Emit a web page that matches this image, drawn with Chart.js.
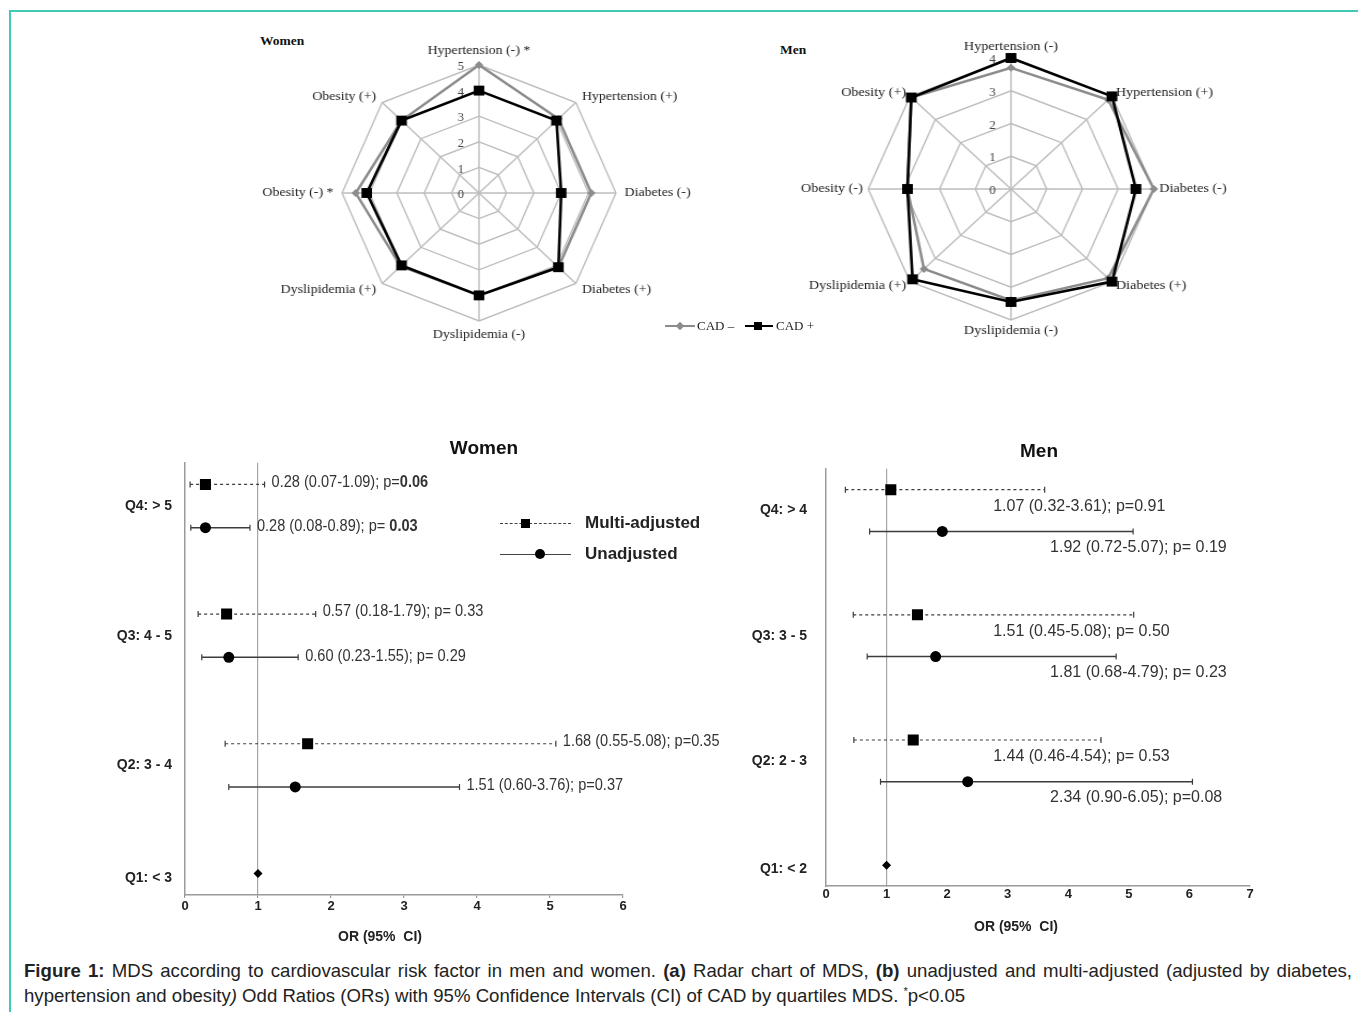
<!DOCTYPE html>
<html>
<head>
<meta charset="utf-8">
<title>Figure 1</title>
<script src="https://cdn.jsdelivr.net/npm/chart.js@4.4.1/dist/chart.umd.min.js"></script>
<style>
  html, body { margin: 0; padding: 0; background: #fff; }
  #page { position: relative; width: 1358px; height: 1012px; overflow: hidden; font-family: "Liberation Sans", Arial, sans-serif; color: #222; }
  #frame { position: absolute; left: 9px; top: 10px; width: 1400px; height: 1100px; border-top: 2px solid #41c9b5; border-left: 2px solid #41c9b5; }
  canvas { position: absolute; }
  .abs { position: absolute; white-space: nowrap; }
  .serif { font-family: "Liberation Serif", "Times New Roman", serif; }
  .rtitle { font-size: 13.5px; font-weight: bold; color: #111; }
  .mark { position: absolute; background: #000; }
  .flg { font-size: 17px; font-weight: bold; line-height: 20px; color: #222; }
  #caption { position: absolute; left: 24px; top: 958px; font-size: 18.6px; line-height: 25px; color: #222; }
  #caption .l1 { width: 1328px; text-align: justify; text-align-last: justify; white-space: nowrap; }
  #caption .l2 { white-space: nowrap; }
</style>
</head>
<body>
<div id="page">
  <div id="frame"></div>

  <div class="abs serif rtitle" style="left:260px; top:33px;">Women</div>
  <div class="abs serif rtitle" style="left:780px; top:42px;">Men</div>
  <canvas id="radarWomen" width="460" height="340" style="left:249px; top:23px; transform-origin:230px 170px; transform:scaleX(1.07);"></canvas>
  <canvas id="radarMen" width="460" height="340" style="left:781px; top:19px; transform-origin:230px 170px; transform:scaleX(1.09);"></canvas>

  <!-- radar legend -->
  <div class="abs" style="left:665px; top:325px; width:30px; border-top:2px solid #8c8c8c;"></div>
  <div class="mark" style="left:677px; top:323px; width:6px; height:6px; background:#8c8c8c; transform:rotate(45deg);"></div>
  <div class="abs serif" style="left:697px; top:318px; font-size:13px; line-height:16px;">CAD –</div>
  <div class="abs" style="left:745px; top:325px; width:28px; border-top:2px solid #000;"></div>
  <div class="mark" style="left:754px; top:322px; width:8px; height:8px;"></div>
  <div class="abs serif" style="left:776px; top:318px; font-size:13px; line-height:16px;">CAD +</div>

  <canvas id="forestWomen" width="788" height="520" style="left:90px; top:430px;"></canvas>
  <canvas id="forestMen" width="598" height="510" style="left:740px; top:430px;"></canvas>

  <!-- forest legend -->
  <div class="abs" style="left:500px; top:523px; width:71px; border-top:1.5px dashed #444;"></div>
  <div class="mark" style="left:521px; top:519px; width:9px; height:9px;"></div>
  <div class="abs flg" style="left:585px; top:513px;">Multi-adjusted</div>
  <div class="abs" style="left:500px; top:554px; width:71px; border-top:1.5px solid #444;"></div>
  <div class="mark" style="left:535px; top:549px; width:10px; height:10px; border-radius:50%;"></div>
  <div class="abs flg" style="left:585px; top:544px;">Unadjusted</div>

  <div id="caption">
    <div class="l1"><b>Figure 1:</b> MDS according to cardiovascular risk factor in men and women. <b>(a)</b> Radar chart of MDS, <b>(b)</b> unadjusted and multi-adjusted (adjusted by diabetes,</div>
    <div class="l2">hypertension and obesity<i>)</i> Odd Ratios (ORs) with 95% Confidence Intervals (CI) of CAD by quartiles MDS. <sup style="font-size:11px; line-height:0">*</sup>p&lt;0.05</div>
  </div>
</div>

<script>
// ---- radar data (MDS) ----
const womenAxes = ['Hypertension (-) *', 'Hypertension (+)', 'Diabetes (-)', 'Diabetes (+)', 'Dyslipidemia (-)', 'Dyslipidemia (+)', 'Obesity (-) *', 'Obesity (+)'];
const womenCadNeg = [5.0, 4.1, 4.1, 4.1, 4.0, 4.05, 4.5, 4.0];
const womenCadPos = [4.0, 4.0, 3.0, 4.1, 4.0, 4.0, 4.1, 4.0];

const menAxes = ['Hypertension (-)', 'Hypertension (+)', 'Diabetes (-)', 'Diabetes (+)', 'Dyslipidemia (-)', 'Dyslipidemia (+)', 'Obesity (-)', 'Obesity (+)'];
const menCadNeg = [3.7, 3.85, 4.0, 3.85, 3.4, 3.45, 2.9, 3.95];
const menCadPos = [4.0, 4.0, 3.5, 4.0, 3.45, 3.9, 2.9, 3.95];

// ---- odds ratios by MDS quartile ----
const womenGroups = ['Q4: > 5', 'Q3: 4 - 5', 'Q2: 3 - 4', 'Q1: < 3'];
const womenMultiOR = [0.28, 0.57, 1.68];
const womenMultiLo = [0.07, 0.18, 0.55];
const womenMultiHi = [1.09, 1.79, 5.08];
const womenMultiP = ['0.06', ' 0.33', '0.35'];
const womenUnadjOR = [0.28, 0.60, 1.51];
const womenUnadjLo = [0.08, 0.23, 0.60];
const womenUnadjHi = [0.89, 1.55, 3.76];
const womenUnadjP = [' 0.03', ' 0.29', '0.37'];
const womenBoldP = [true, false, false];
const womenXTicks = [0, 1, 2, 3, 4, 5, 6];

const menGroups = ['Q4: > 4', 'Q3: 3 - 5', 'Q2: 2 - 3', 'Q1: < 2'];
const menMultiOR = [1.07, 1.51, 1.44];
const menMultiLo = [0.32, 0.45, 0.46];
const menMultiHi = [3.61, 5.08, 4.54];
const menMultiP = ['0.91', ' 0.50', ' 0.53'];
const menUnadjOR = [1.92, 1.81, 2.34];
const menUnadjLo = [0.72, 0.68, 0.90];
const menUnadjHi = [5.07, 4.79, 6.05];
const menUnadjP = [' 0.19', ' 0.23', '0.08'];
const menBoldP = [false, false, false];
const menXTicks = [0, 1, 2, 3, 4, 5, 6, 7];

Chart.defaults.font.family = '"Liberation Sans", Arial, sans-serif';
Chart.defaults.animation = false;
Chart.defaults.plugins.legend.display = false;
Chart.defaults.plugins.tooltip.enabled = false;

// tick numbers left of the spoke, axis names around the web
const radarText = {
  id: 'radarText',
  beforeDatasetsDraw(chart, args, opts) {
    const r = chart.scales.r, ctx = chart.ctx;
    ctx.save();
    ctx.fillStyle = '#444';
    ctx.font = '12px "Liberation Serif"';
    ctx.textAlign = 'center';
    ctx.textBaseline = 'middle';
    r.ticks.forEach(t => {
      ctx.fillText(t.label, r.xCenter - 17, r.yCenter - r.getDistanceFromCenterForValue(t.value) + 2);
    });
    ctx.fillStyle = '#222';
    ctx.font = '13px "Liberation Serif"';
    chart.data.labels.forEach((label, i) => {
      const p = r.getPointPosition(i, r.drawingArea + opts.gap);
      const dx = p.x - r.xCenter, dy = p.y - r.yCenter;
      let y = p.y;
      if (Math.abs(dx) < 1) {
        ctx.textAlign = 'center';
        y += dy > 0 ? 6 : -6;
      } else {
        ctx.textAlign = dx > 0 ? 'left' : 'right';
      }
      ctx.fillText(label, p.x, y);
    });
    ctx.restore();
  }
};

function radarChart(id, labels, neg, pos, max, pad, gap) {
  return new Chart(document.getElementById(id), {
    type: 'radar',
    data: {
      labels,
      datasets: [
        { label: 'CAD –', data: neg, borderColor: '#8c8c8c', borderWidth: 2.5, borderJoinStyle: 'miter',
          pointStyle: 'rectRot', pointRadius: 4, pointBackgroundColor: '#8c8c8c', pointBorderWidth: 0, fill: false, order: 1 },
        { label: 'CAD +', data: pos, borderColor: '#000', borderWidth: 2.6, borderJoinStyle: 'miter',
          pointStyle: 'rect', pointRadius: 7, pointBackgroundColor: '#000', pointBorderWidth: 0, fill: false, order: 0 }
      ]
    },
    options: {
      responsive: false,
      layout: { padding: pad },
      plugins: { radarText: { gap } },
      scales: {
        r: {
          min: 0, max,
          ticks: { stepSize: 1, display: false },
          pointLabels: { display: false },
          grid: { color: '#bdbdbd', lineWidth: 1.4 },
          angleLines: { color: '#bdbdbd', lineWidth: 1.4 }
        }
      }
    },
    plugins: [radarText]
  });
}

radarChart('radarWomen', womenAxes, womenCadNeg, womenCadPos, 5, { left: 102, right: 102, top: 42, bottom: 42 }, 8);
radarChart('radarMen', menAxes, menCadNeg, menCadPos, 4, { left: 99, right: 99, top: 39, bottom: 39 }, 5);

// OR text next to / under each interval, plus the x-axis caption
const orNotes = {
  id: 'orNotes',
  afterDatasetsDraw(chart, args, opts) {
    const { ctx, scales: { x, y } } = chart;
    chart.data.datasets.forEach(ds => {
      if (!ds.note) return;
      const hi = ds.data[2];
      const px = opts.below ? x.getPixelForValue(opts.start[ds.kind]) : x.getPixelForValue(hi.x) + opts.dx;
      const py = y.getPixelForValue(hi.y) + opts.dy[ds.kind];
      ctx.save();
      ctx.translate(px, py);
      ctx.scale(opts.squeeze, 1);
      ctx.fillStyle = '#333';
      ctx.textBaseline = 'middle';
      ctx.textAlign = 'left';
      const font = opts.size + 'px "Liberation Sans"';
      ctx.font = font;
      ctx.fillText(ds.note.text, 0, 0);
      const w = ctx.measureText(ds.note.text).width;
      if (ds.note.bold) ctx.font = 'bold ' + font;
      ctx.fillText(ds.note.p, w, 0);
      ctx.restore();
    });
  },
  afterDraw(chart, args, opts) {
    const { ctx, chartArea } = chart;
    ctx.save();
    ctx.fillStyle = '#222';
    ctx.font = 'bold 14px "Liberation Sans"';
    ctx.textAlign = 'center';
    ctx.textBaseline = 'middle';
    ctx.fillText('OR (95%  CI)', (chartArea.left + chartArea.right) / 2 + opts.titleDx, chartArea.bottom + opts.titleDy);
    ctx.restore();
  }
};

function ciRow(or, lo, hi, y, kind, pText, bold) {
  const multi = kind === 'multi';
  return {
    kind,
    note: { text: `${or.toFixed(2)} (${lo.toFixed(2)}-${hi.toFixed(2)}); p=`, p: pText, bold },
    data: [{ x: lo, y }, { x: or, y }, { x: hi, y }],
    showLine: true,
    borderColor: '#3c3c3c',
    borderWidth: multi ? 1.2 : 1.5,
    borderDash: multi ? [3, 3] : [],
    pointStyle: ['line', multi ? 'rect' : 'circle', 'line'],
    pointRotation: [90, 0, 90],
    pointRadius: [3, multi ? 7.8 : 5.5, 3],
    pointBackgroundColor: '#000',
    pointBorderColor: ['#3c3c3c', '#000', '#3c3c3c'],
    pointBorderWidth: [1.2, 0, 1.2]
  };
}

function forestChart(id, title, groups, multi, unadj, pVals, boldP, xTicks, lay) {
  const datasets = [];
  for (let i = 0; i < 3; i++) {
    const c = 9 - 3 * i;
    datasets.push(ciRow(multi[0][i], multi[1][i], multi[2][i], c + 0.5, 'multi', pVals[0][i], boldP[i]));
    datasets.push(ciRow(unadj[0][i], unadj[1][i], unadj[2][i], c - 0.5, 'unadj', pVals[1][i], boldP[i]));
  }
  // Q1 is the reference category (OR = 1)
  datasets.push({ data: [{ x: 1, y: 0.5 }], pointStyle: 'rectRot', pointRadius: 4.5, pointBackgroundColor: '#000', pointBorderWidth: 0 });
  const tickPos = groups.map((g, i) => i < 3 ? 9 - 3 * i : 0.4);

  return new Chart(document.getElementById(id), {
    type: 'scatter',
    data: { datasets },
    options: {
      responsive: false,
      plugins: {
        title: { display: true, text: title, color: '#111', font: { size: 19, weight: 'bold' }, padding: lay.titlePad },
        orNotes: lay.notes
      },
      scales: {
        x: {
          type: 'linear', min: 0, max: xTicks[xTicks.length - 1],
          afterBuildTicks: s => { s.ticks = xTicks.map(v => ({ value: v })); },
          ticks: { color: '#222', font: { size: 13, weight: 'bold' }, padding: lay.tickPad, autoSkip: false },
          grid: {
            color: c => (c.tick && c.tick.value === 1) ? '#a6a6a6' : 'rgba(0,0,0,0)',
            lineWidth: 1.2, tickLength: lay.tickLen, tickColor: '#999'
          },
          border: { color: '#9a9a9a', width: 1.5 },
          afterFit: s => { s.height = lay.xHeight; }
        },
        y: {
          type: 'linear', min: 0, max: 10,
          afterBuildTicks: s => { s.ticks = tickPos.map(v => ({ value: v })); },
          ticks: { callback: (v, i) => groups[i], color: '#222', font: { size: 14, weight: 'bold' }, padding: lay.yPad, autoSkip: false },
          grid: { display: false, drawTicks: false },
          border: { color: '#9a9a9a', width: 1.5 },
          afterFit: s => { s.width = lay.yWidth; }
        },
        // empty right axis: keeps room for the OR text while the title stays centred on the canvas
        yRoom: {
          type: 'linear', position: 'right', display: true,
          ticks: { display: false },
          grid: { display: false, drawTicks: false },
          border: { display: false },
          afterFit: s => { s.width = lay.padRight; }
        }
      }
    },
    plugins: [orNotes]
  });
}

forestChart('forestWomen', 'Women', womenGroups,
  [womenMultiOR, womenMultiLo, womenMultiHi], [womenUnadjOR, womenUnadjLo, womenUnadjHi],
  [womenMultiP, womenUnadjP], womenBoldP, womenXTicks,
  { padRight: 255, yWidth: 95, yPad: 13, xHeight: 55, tickLen: 3, tickPad: 1, titlePad: { top: 7, bottom: 3 },
    notes: { below: false, dx: 7, dy: { multi: -2, unadj: -1 }, size: 16, squeeze: 0.91, titleDx: -24, titleDy: 42 } });

forestChart('forestMen', 'Men', menGroups,
  [menMultiOR, menMultiLo, menMultiHi], [menUnadjOR, menUnadjLo, menUnadjHi],
  [menMultiP, menUnadjP], menBoldP, menXTicks,
  { padRight: 88, yWidth: 86, yPad: 19, xHeight: 54, tickLen: 1, tickPad: 0, titlePad: { top: 10, bottom: 6 },
    notes: { below: true, start: { multi: 2.76, unadj: 3.70 }, dy: { multi: 17, unadj: 16 }, size: 16, squeeze: 1, titleDx: -22, titleDy: 41 } });
</script>
</body>
</html>
